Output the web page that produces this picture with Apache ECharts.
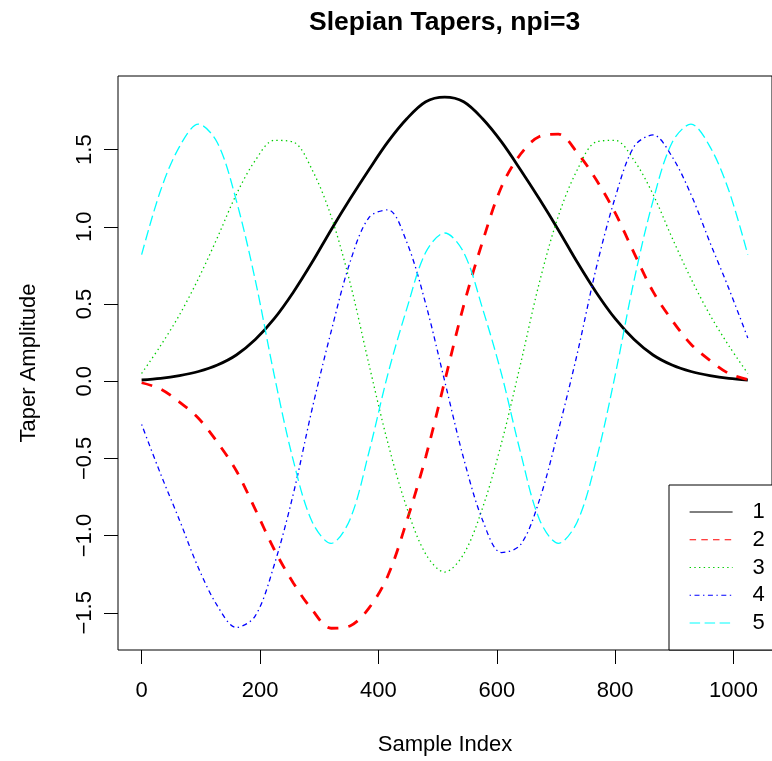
<!DOCTYPE html>
<html>
<head>
<meta charset="utf-8">
<script src="https://cdn.jsdelivr.net/npm/echarts@6/dist/echarts.min.js"></script>
<style>
html,body{margin:0;padding:0;background:#fff;}
#js_tapers{width:772px;height:761px;}
</style>
</head>
<body>
<div id="js_tapers"></div>
<script>
// values, one every 32 samples
var sampleIndex = [0,32,64,96,128,160,192,224,256,288,320,352,384,416,448,480,512,544,576,608,640,672,704,736,768,800,832,864,896,928,960,992,1024];
var taper1 = [0.008,0.018,0.036,0.063,0.105,0.17,0.27,0.405,0.575,0.77,0.98,1.18,1.37,1.55,1.70,1.81,1.84,1.81,1.70,1.55,1.37,1.18,0.98,0.77,0.575,0.405,0.27,0.17,0.105,0.063,0.036,0.018,0.008];
var taper2 = [-0.01,-0.05,-0.135,-0.24,-0.395,-0.58,-0.83,-1.09,-1.305,-1.48,-1.60,-1.585,-1.47,-1.26,-0.905,-0.49,0.00,0.49,0.905,1.26,1.47,1.585,1.60,1.48,1.305,1.09,0.83,0.58,0.395,0.24,0.135,0.05,0.01];
var taper3 = [0.05,0.23,0.43,0.665,0.93,1.21,1.43,1.56,1.55,1.37,1.07,0.64,0.11,-0.40,-0.82,-1.12,-1.236,-1.12,-0.82,-0.40,0.11,0.64,1.07,1.37,1.55,1.56,1.43,1.21,0.93,0.665,0.43,0.23,0.05];
var taper4 = [-0.28,-0.60,-0.90,-1.21,-1.455,-1.595,-1.52,-1.19,-0.734,-0.18,0.32,0.77,1.06,1.11,0.90,0.50,0.00,-0.50,-0.90,-1.11,-1.06,-0.77,-0.32,0.18,0.734,1.19,1.52,1.595,1.455,1.21,0.90,0.60,0.28];
var taper5 = [0.82,1.235,1.52,1.665,1.545,1.17,0.655,0.04,-0.51,-0.91,-1.05,-0.895,-0.46,0.046,0.47,0.835,0.96,0.835,0.47,0.046,-0.46,-0.895,-1.05,-0.91,-0.51,0.04,0.655,1.17,1.545,1.665,1.52,1.235,0.82];

var taperNames = ['1','2','3','4','5'];
var taperColors = ['#000000','#FF0000','#00CD00','#0000FF','#00FFFF'];
var xTicks = [0,200,400,600,800,1000];
var yTicks = [-1.5,-1.0,-0.5,0.0,0.5,1.0,1.5];

var font = 'Liberation Sans, Arial, sans-serif';

function pairs(vals){
    return sampleIndex.map(function(x,i){ return [x, vals[i]]; });
}

var myChart = echarts.init(document.getElementById('js_tapers'));
var option = {
    animation:false,
    backgroundColor:'#fff',
    color:taperColors,
    title:{
        text:'Slepian Tapers, npi=3',
        left:309,
        top:9,
        padding:0,
        textStyle:{fontFamily:font,fontSize:26.5,fontWeight:'bold',color:'#000'}
    },
    grid:{
        left:118,
        top:76,
        width:658,
        height:574,
        show:true,
        borderColor:'#000',
        borderWidth:1,
        backgroundColor:'transparent'
    },
    legend:{
        orient:'vertical',
        left:669,
        top:485,
        padding:[16,40,16,20],
        itemWidth:43,
        itemHeight:14,
        itemGap:5.75,
        borderColor:'#000',
        borderWidth:1,
        borderRadius:0,
        backgroundColor:'#fff',
        selectedMode:false,
        itemStyle:{color:'transparent',borderWidth:0,opacity:0},
        textStyle:{fontFamily:font,fontSize:22,color:'#000',padding:[0,0,0,15]},
        data:[
            {name:'1',lineStyle:{width:1}},
            {name:'2',lineStyle:{width:1,type:[6.5,5.2]}},
            {name:'3',lineStyle:{width:1.2,type:[1.4,3.3]}},
            {name:'4',lineStyle:{width:1.2,type:[1.4,3.5,5,3.5]}},
            {name:'5',lineStyle:{width:1.2,type:[10.5,4.5]}}
        ]
    },
    xAxis:{
        type:'value',
        min:-39.9,
        max:1064.9,
        name:'Sample Index',
        nameLocation:'middle',
        nameGap:84,
        nameTextStyle:{fontFamily:font,fontSize:22,color:'#000'},
        splitLine:{show:false},
        axisLine:{show:false,onZero:false},
        axisTick:{show:true,inside:false,length:14,customValues:xTicks,lineStyle:{color:'#000',width:1}},
        axisLabel:{
            customValues:xTicks,
            margin:30,
            fontFamily:font,fontSize:22,color:'#000',
            formatter:function(v){ return String(v); }
        }
    },
    yAxis:{
        type:'value',
        min:-1.741,
        max:1.977,
        name:'Taper Amplitude',
        nameLocation:'middle',
        nameGap:78,
        nameTextStyle:{fontFamily:font,fontSize:22,color:'#000'},
        splitLine:{show:false},
        axisLine:{show:false,onZero:false},
        axisTick:{show:true,inside:false,length:14,customValues:yTicks,lineStyle:{color:'#000',width:1}},
        axisLabel:{
            customValues:yTicks,
            rotate:90,
            margin:22,
            fontFamily:font,fontSize:22,color:'#000',
            formatter:function(v){ return v.toFixed(1).replace('-', '\u2212'); }
        }
    },
    series:[
        {
            name:taperNames[0],type:'line',data:pairs(taper1),
            symbol:'none',smooth:0.33,
            lineStyle:{color:taperColors[0],width:2.8}
        },
        {
            name:taperNames[1],type:'line',data:pairs(taper2),
            symbol:'none',smooth:0.33,
            lineStyle:{color:taperColors[1],width:2.8,type:[11,10],cap:'butt'}
        },
        {
            name:taperNames[2],type:'line',data:pairs(taper3),
            symbol:'none',smooth:0.33,
            lineStyle:{color:taperColors[2],width:1.3,type:[1.4,3.3]}
        },
        {
            name:taperNames[3],type:'line',data:pairs(taper4),
            symbol:'none',smooth:0.33,
            lineStyle:{color:taperColors[3],width:1.3,type:[1.4,3.5,5,3.5]}
        },
        {
            name:taperNames[4],type:'line',data:pairs(taper5),
            symbol:'none',smooth:0.33,
            lineStyle:{color:taperColors[4],width:1.3,type:[10.5,4.5]}
        }
    ]
};
myChart.setOption(option);
</script>
</body>
</html>
